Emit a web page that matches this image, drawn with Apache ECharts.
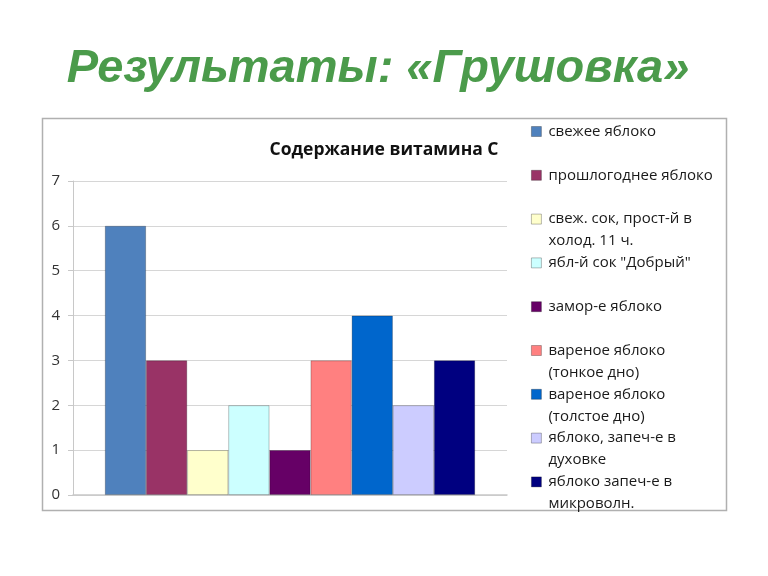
<!DOCTYPE html>
<html>
<head>
<meta charset="utf-8">
<script src="https://cdn.jsdelivr.net/npm/echarts@6/dist/echarts.min.js"></script>
<style>html,body{margin:0;padding:0;background:#fff;}#c{width:768px;height:576px;}</style>
</head>
<body>
<div id="c"></div>
<script>
var pageTitle = 'Результаты: «Грушовка»';
var chartTitle = 'Содержание витамина С';
var seriesNames = [
  'свежее яблоко',
  'прошлогоднее яблоко',
  'свеж. сок, прост-й в\nхолод. 11 ч.',
  'ябл-й сок "Добрый"',
  'замор-е яблоко',
  'вареное яблоко\n(тонкое дно)',
  'вареное яблоко\n(толстое дно)',
  'яблоко, запеч-е в\nдуховке',
  'яблоко запеч-е в\nмикроволн.'
];
var seriesValues = [6, 3, 1, 2, 1, 3, 4, 2, 3];
var seriesColors = ['#4F81BD', '#993366', '#FFFFCC', '#CCFFFF', '#660066', '#FF8080', '#0066CC', '#CCCCFF', '#000080'];
var yTicks = [0, 1, 2, 3, 4, 5, 6, 7];

var chart = echarts.init(document.getElementById('c'));

var series = seriesNames.map(function (n, i) {
  return {
    type: 'bar',
    name: n,
    data: [seriesValues[i]],
    barGap: '0%',
    barCategoryGap: '14.7%',
    itemStyle: {
      color: seriesColors[i],
      borderColor: 'rgba(0,0,0,0.3)',
      borderWidth: 0.8
    }
  };
});

var legends = seriesNames.map(function (n, i) {
  var multi = n.indexOf('\n') >= 0;
  var center = 131.5 + i * 43.8;
  return {
    data: [n],
    orient: 'vertical',
    left: 531,
    top: center - (multi ? 33 : 11),
    padding: 0,
    itemWidth: 10,
    itemHeight: 10,
    itemGap: 6,
    icon: 'rect',
    selectedMode: false,
    formatter: function (name) { return name.indexOf('\n') >= 0 ? '\n' + name : name; },
    textStyle: {
      fontFamily: 'Open Sans',
      fontSize: 15,
      lineHeight: 22,
      color: '#1a1a1a',
      padding: [0, 0, 0, 2]
    },
    itemStyle: { borderColor: 'rgba(0,0,0,0.35)', borderWidth: 0.8 }
  };
});

chart.setOption({
  animation: false,
  backgroundColor: '#fff',
  title: [{
    text: pageTitle,
    left: 373,
    top: 41,
    textAlign: 'center',
    textStyle: {
      fontFamily: 'Liberation Sans',
      fontSize: 47,
      fontWeight: 'bold',
      fontStyle: 'italic',
      color: '#4B9B4B'
    }
  }, {
    text: chartTitle,
    left: 379,
    top: 136,
    textAlign: 'center',
    textStyle: {
      fontFamily: 'Open Sans',
      fontSize: 17.5,
      fontWeight: 'bold',
      color: '#111'
    }
  }],
  graphic: [{
    type: 'rect',
    shape: { x: 42.5, y: 118.5, width: 684, height: 392 },
    style: { fill: 'none', stroke: '#b0b0b0', lineWidth: 1.5 },
    z: -1
  }],
  legend: legends,
  grid: { left: 73, right: 261, top: 181, bottom: 81 },
  xAxis: {
    type: 'category',
    data: [''],
    axisLine: { show: true, lineStyle: { color: '#c8c8c8', width: 1.5 } },
    axisTick: { show: false },
    axisLabel: { show: false },
    splitLine: { show: false }
  },
  yAxis: {
    type: 'value',
    min: yTicks[0],
    max: yTicks[yTicks.length - 1],
    interval: 1,
    axisLine: { show: true, lineStyle: { color: '#c8c8c8', width: 1 } },
    axisTick: { show: true, length: 5, lineStyle: { color: '#c8c8c8' } },
    axisLabel: {
      margin: 13,
      fontFamily: 'Open Sans',
      fontSize: 15,
      color: '#333'
    },
    splitLine: { show: true, lineStyle: { color: '#d6d6d6', width: 1 } }
  },
  series: series
});
</script>
</body>
</html>
